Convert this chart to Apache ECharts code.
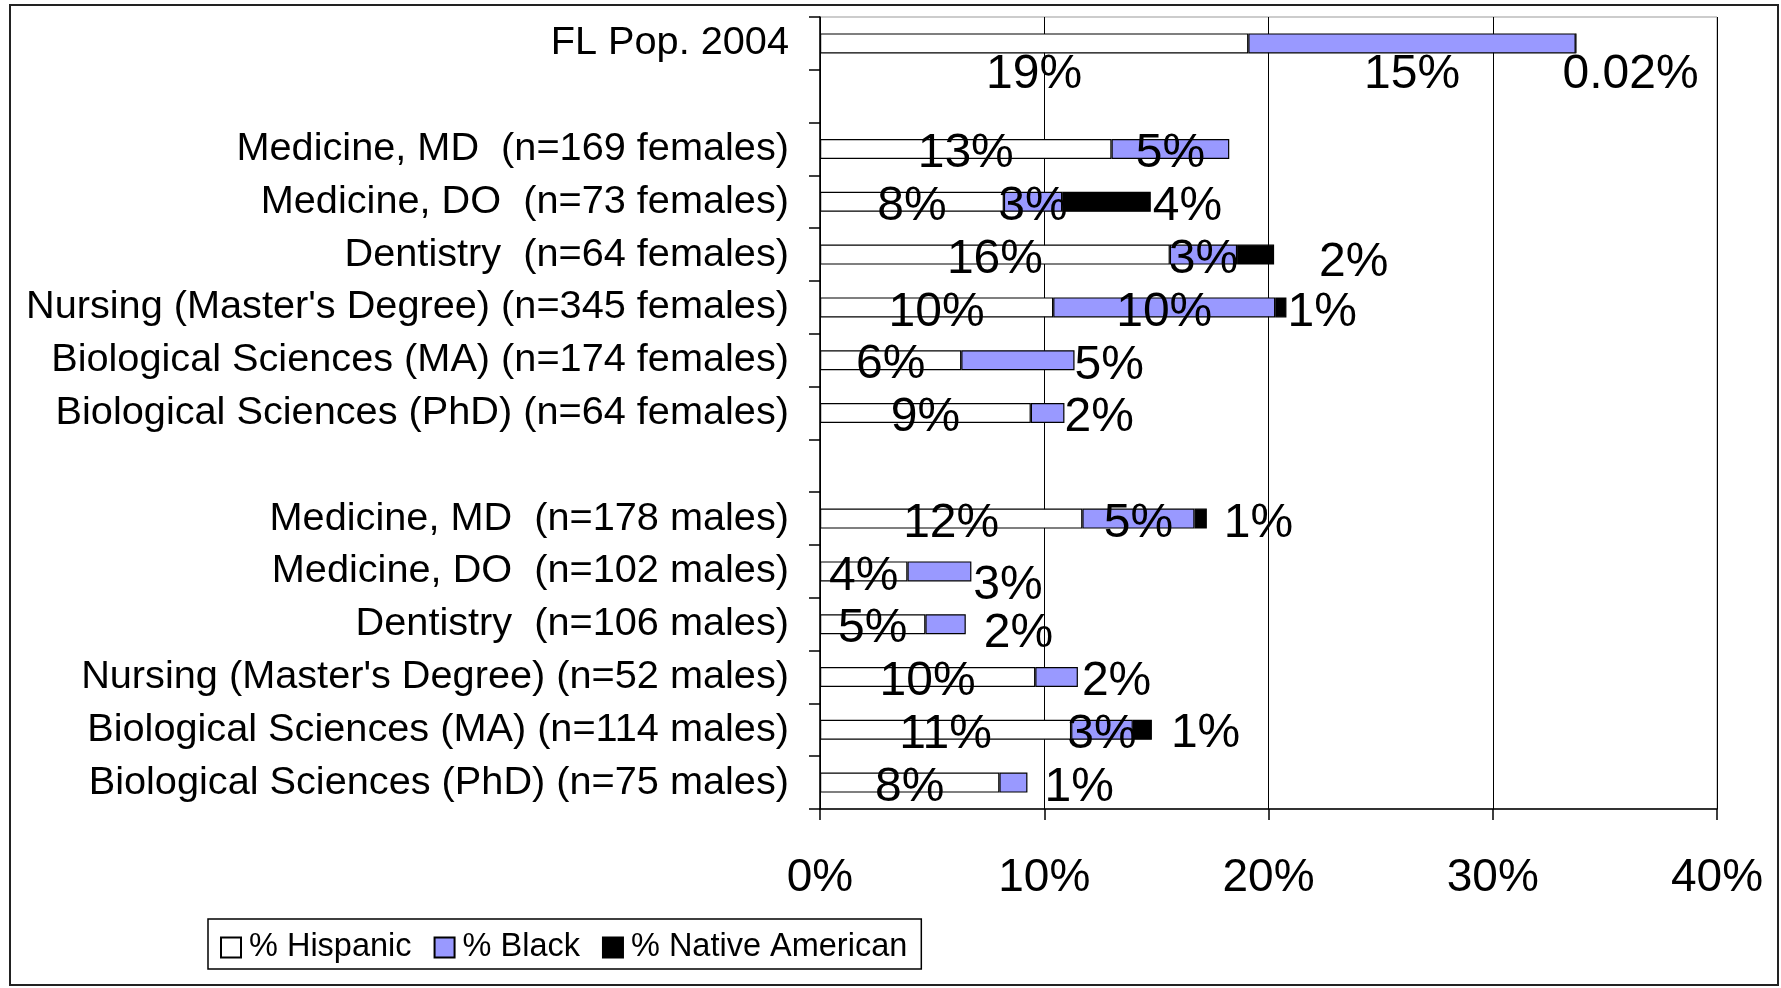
<!DOCTYPE html>
<html>
<head>
<meta charset="utf-8">
<script src="https://cdn.jsdelivr.net/npm/echarts@6/dist/echarts.min.js"></script>
<style>
  html, body { margin: 0; padding: 0; background: #fff; }
  #chart { width: 1781px; height: 988px; }
</style>
</head>
<body>
<div id="chart"></div>
<script>
// categories, top to bottom ('' = spacer rows)
const categories = [
  'FL Pop. 2004',
  '',
  'Medicine, MD  (n=169 females)',
  'Medicine, DO  (n=73 females)',
  'Dentistry  (n=64 females)',
  "Nursing (Master's Degree) (n=345 females)",
  'Biological Sciences (MA) (n=174 females)',
  'Biological Sciences (PhD) (n=64 females)',
  '',
  'Medicine, MD  (n=178 males)',
  'Medicine, DO  (n=102 males)',
  'Dentistry  (n=106 males)',
  "Nursing (Master's Degree) (n=52 males)",
  'Biological Sciences (MA) (n=114 males)',
  'Biological Sciences (PhD) (n=75 males)',
];

// percentages
const hispanic = [19.1, null, 13.0, 8.2, 15.6, 10.4, 6.3, 9.4, null, 11.7, 3.9, 4.7, 9.6, 11.2, 8.0];
const black = [14.6, null, 5.25, 2.6, 3.0, 9.9, 5.05, 1.5, null, 5.0, 2.85, 1.8, 1.9, 2.75, 1.25];
const nativeAm = [0.02, null, 0, 3.95, 1.65, 0.5, 0, 0, null, 0.55, 0, 0, 0, 0.85, 0];

const xTicks = [0, 10, 20, 30, 40];

const FONT = 'Liberation Sans, Arial, sans-serif';

// label nudges [dx, dy] for labels placed beside the bar
const blackOutside = { 6: [0, 6], 7: [0, 5], 10: [2, 14], 11: [18, 10], 12: [4, 5], 14: [17, 5] };
const nativeNudge = { 0: [-14, 31], 3: [2, 5], 4: [45, 8], 5: [1, 5], 9: [17, 5], 13: [19, 4] };

const fmt = (v) => {
  if (v == null || v === 0) return '';
  if (v < 0.5) return v.toFixed(2) + '%';
  return Math.round(v) + '%';
};

const baseLabel = {
  show: true,
  color: '#000',
  fontSize: 48,
  fontFamily: FONT,
  formatter: (p) => fmt(p.value),
};

const buildData = (arr, kind) =>
  arr.map((v, i) => {
    if (v == null || v === 0) return '-';
    const item = { value: v };
    if (kind === 'hisp') {
      item.label = { position: 'inside', offset: [0, i === 0 ? 31 : 5] };
    } else if (kind === 'black') {
      if (blackOutside[i]) {
        item.label = { position: 'right', distance: 0, offset: blackOutside[i] };
      } else {
        item.label = { position: 'inside', offset: [0, i === 0 ? 31 : 5] };
      }
    } else {
      const n = nativeNudge[i] || [2, 5];
      item.label = { position: 'right', distance: 0, offset: n };
    }
    return item;
  });

const chart = echarts.init(document.getElementById('chart'));

chart.setOption({
  animation: false,
  backgroundColor: '#fff',
  textStyle: { fontFamily: FONT },
  graphic: [
    {
      type: 'rect',
      shape: { x: 10, y: 5, width: 1768, height: 980 },
      style: { fill: 'none', stroke: '#222', lineWidth: 2 },
      silent: true,
    },
  ],
  legend: {
    left: 208,
    top: 919,
    orient: 'horizontal',
    icon: 'rect',
    itemWidth: 20,
    itemHeight: 20,
    itemGap: 22,
    padding: [12, 14, 5, 12],
    borderColor: '#000',
    borderWidth: 1.5,
    textStyle: { fontSize: 32.5, color: '#000', fontFamily: FONT, padding: [0, 0, 0, 3] },
    data: ['% Hispanic', '% Black', '% Native American'],
  },
  grid: {
    left: 820,
    right: 64,
    top: 17,
    bottom: 179,
    show: true,
    borderColor: '#999',
    borderWidth: 1,
  },
  xAxis: {
    type: 'value',
    min: xTicks[0],
    max: xTicks[xTicks.length - 1],
    interval: 10,
    axisLine: { show: true, lineStyle: { color: '#000', width: 1.5 } },
    axisTick: { show: true, length: 11, lineStyle: { color: '#000', width: 1.5 } },
    axisLabel: { formatter: '{value}%', fontSize: 46, color: '#000', margin: 46, fontFamily: FONT },
    splitLine: { show: true, lineStyle: { color: '#000', width: 1 } },
  },
  yAxis: {
    type: 'category',
    inverse: true,
    data: categories,
    axisLine: { show: true, lineStyle: { color: '#000', width: 1.5 } },
    axisTick: { show: true, length: 11, alignWithLabel: false, interval: 0, lineStyle: { color: '#000', width: 1.5 } },
    axisLabel: { interval: 0, fontSize: 39.7, color: '#000', margin: 31, fontFamily: FONT, padding: [10, 0, 0, 0] },
    splitLine: { show: false },
  },
  series: [
    {
      name: '% Hispanic',
      type: 'bar',
      stack: 'total',
      barWidth: 20,
      itemStyle: { color: '#fff', borderColor: '#000', borderWidth: 1.2 },
      label: baseLabel,
      data: buildData(hispanic, 'hisp'),
    },
    {
      name: '% Black',
      type: 'bar',
      stack: 'total',
      barWidth: 20,
      itemStyle: { color: '#9999ff', borderColor: '#000', borderWidth: 1.2 },
      label: baseLabel,
      data: buildData(black, 'black'),
    },
    {
      name: '% Native American',
      type: 'bar',
      stack: 'total',
      barWidth: 20,
      itemStyle: { color: '#000', borderColor: '#000', borderWidth: 1.2 },
      label: baseLabel,
      data: buildData(nativeAm, 'native'),
    },
  ],
});
</script>
</body>
</html>
